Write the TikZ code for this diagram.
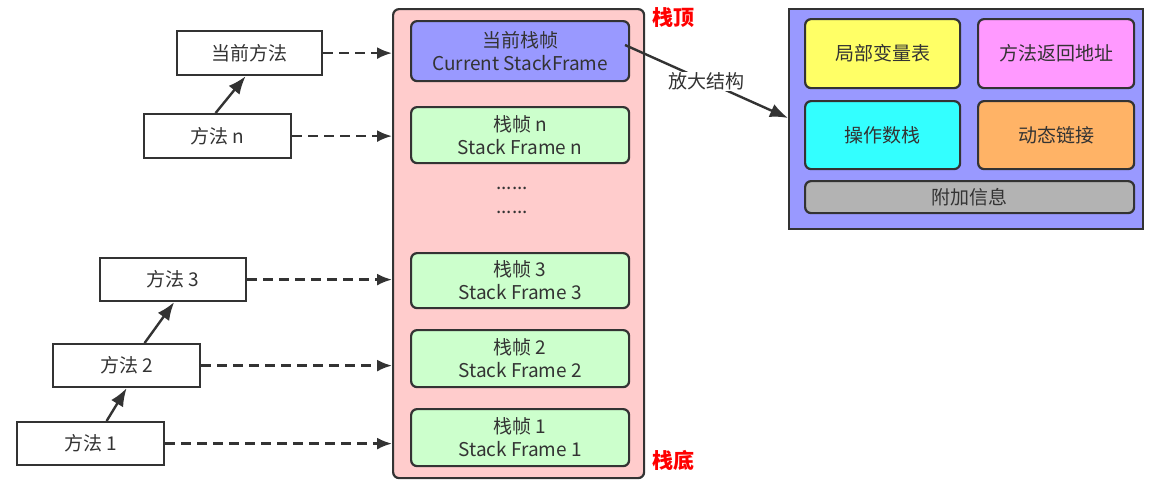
\documentclass[tikz,border=0pt]{standalone}
\usepackage{fontspec}
\setmainfont{Noto Sans CJK SC}
\usetikzlibrary{arrows.meta}
\definecolor{ln}{HTML}{333333}
\definecolor{pinkbg}{HTML}{FFCCCC}
\definecolor{blu}{HTML}{9999FF}
\definecolor{grn}{HTML}{CCFFCC}
\definecolor{yel}{HTML}{FFFF66}
\definecolor{mag}{HTML}{FF99FF}
\definecolor{cya}{HTML}{33FFFF}
\definecolor{ora}{HTML}{FFB366}
\definecolor{gry}{HTML}{B3B3B3}
\begin{document}
\begin{tikzpicture}[x=1pt,y=-1pt,
  every node/.style={font=\fontsize{19}{23}\selectfont, text=ln},
  meth/.style={draw=ln, line width=2.2pt, fill=white, inner sep=0pt},
  frm/.style={draw=ln, line width=2.2pt, rounded corners=6pt, inner sep=0pt, align=center},
  dasharr/.style={draw=ln, line width=2.4pt, dash pattern=on 10pt off 6pt, -{Latex[length=15pt,width=12pt]}},
  solarr/.style={draw=ln, line width=2.4pt, -{Latex[length=18pt,width=14pt]}},
  redlbl/.style={text=red, font=\fontsize{21}{24}\selectfont\bfseries}]
\useasboundingbox (0,0) rectangle (1155,483);
% stack container
\node[frm, fill=pinkbg, minimum width=251pt, minimum height=469pt, anchor=north west] (stack) at (392,8) {};
\node[frm, fill=blu, minimum width=218pt, minimum height=60pt, anchor=north west] (cur) at (410,20) {当前栈帧\\Current StackFrame};
\node[frm, fill=grn, minimum width=218pt, minimum height=56pt, anchor=north west] (fn) at (410,106) {栈帧 n\\Stack Frame n};
\node (d1) at (512,188) {......};
\node (d2) at (512,212) {......};
\node[frm, fill=grn, minimum width=218pt, minimum height=55pt, anchor=north west] (f3) at (410,252) {栈帧 3\\Stack Frame 3};
\node[frm, fill=grn, minimum width=218pt, minimum height=57pt, anchor=north west] (f2) at (410,329) {栈帧 2\\Stack Frame 2};
\node[frm, fill=grn, minimum width=218pt, minimum height=57pt, anchor=north west] (f1) at (410,408) {栈帧 1\\Stack Frame 1};
\node[redlbl] (top) at (673,18) {栈顶};
\node[redlbl] (bot) at (673,460) {栈底};
% methods
\node[meth, minimum width=145pt, minimum height=44pt, anchor=north west] (mc) at (176,30) {当前方法};
\node[meth, minimum width=147pt, minimum height=44pt, anchor=north west] (mn) at (143,113) {方法 n};
\node[meth, minimum width=146pt, minimum height=43pt, anchor=north west] (m3) at (99,257) {方法 3};
\node[meth, minimum width=147pt, minimum height=43pt, anchor=north west] (m2) at (52,343) {方法 2};
\node[meth, minimum width=147pt, minimum height=43pt, anchor=north west] (m1) at (16,421) {方法 1};
\draw[dasharr] (mc.east) -- (mc.east -| stack.west);
\draw[dasharr] (mn.east) -- (mn.east -| stack.west);
\draw[dasharr] (m3.east) -- (m3.east -| stack.west);
\draw[dasharr] (m2.east) -- (m2.east -| stack.west);
\draw[dasharr] (m1.east) -- (m1.east -| stack.west);
\draw[solarr] ([xshift=-2pt]mn.north) -- ([xshift=-4pt]mc.south);
\draw[solarr] ([xshift=18pt]m2.north) -- ([xshift=1pt]m3.south);
\draw[solarr] ([xshift=16pt]m1.north) -- ([xshift=0pt]m2.south);
% frame structure
\node[draw=ln, line width=2.2pt, fill=blu, minimum width=354pt, minimum height=220pt, anchor=north west, inner sep=0pt] (big) at (788,8) {};
\node[frm, fill=yel, minimum width=155pt, minimum height=69pt, anchor=north west] (lv) at (804,18) {局部变量表};
\node[frm, fill=mag, minimum width=156pt, minimum height=69pt, anchor=north west] (ra) at (977,18) {方法返回地址};
\node[frm, fill=cya, minimum width=155pt, minimum height=68pt, anchor=north west] (os) at (804,100) {操作数栈};
\node[frm, fill=ora, minimum width=156pt, minimum height=68pt, anchor=north west] (dl) at (977,100) {动态链接};
\node[frm, fill=gry, minimum width=329pt, minimum height=32pt, anchor=north west] (ai) at (804,180) {附加信息};
\coordinate (zs) at (625,45);
\coordinate (ze) at (788,118);
\draw[solarr] (zs) -- node[fill=white, inner sep=1pt, pos=0.5] (zl) {放大结构} (ze);
\end{tikzpicture}
\end{document}
